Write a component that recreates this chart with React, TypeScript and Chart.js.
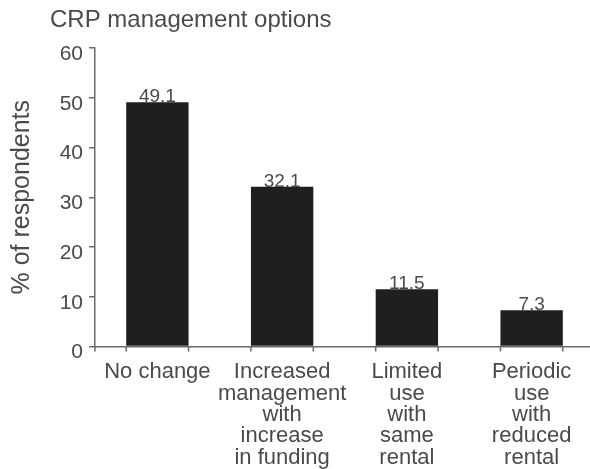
import React, { useEffect, useRef } from "react";
import { Chart, registerables } from "chart.js";

Chart.register(...registerables);

const categories: string[][] = [
  ["No change"],
  ["Increased", "management", "with", "increase", "in funding"],
  ["Limited", "use", "with", "same", "rental"],
  ["Periodic", "use", "with", "reduced", "rental"],
];
const values: number[] = [49.1, 32.1, 11.5, 7.3];
const yTicks: number[] = [0, 10, 20, 30, 40, 50, 60];
const chartTitle = "CRP management options";
const yTitle = "% of respondents";

const TEXT = "#4a4a4a";
const AXIS = "#6a6a6a";
const BAR = "#1f1f1f";
const FONT = "'Liberation Sans', Arial, Helvetica, sans-serif";

const W = 594;
const H = 469;

export default function App() {
  const ref = useRef<HTMLCanvasElement | null>(null);

  useEffect(() => {
    if (!ref.current) return;
    const decor = {
      id: "decor",
      afterDraw(chart: any) {
        const ctx = chart.ctx;
        const area = chart.chartArea;
        const meta = chart.getDatasetMeta(0);
        ctx.save();
        // bar-edge ticks under x axis
        ctx.strokeStyle = AXIS;
        ctx.lineWidth = 1.5;
        meta.data.forEach((el: any) => {
          const p = el.getProps(["x", "width"], true);
          [p.x - p.width / 2, p.x + p.width / 2].forEach((xx: number) => {
            ctx.beginPath();
            ctx.moveTo(xx, area.bottom);
            ctx.lineTo(xx, area.bottom + 5);
            ctx.stroke();
          });
        });
        ctx.beginPath();
        ctx.moveTo(area.left, area.bottom);
        ctx.lineTo(area.left, area.bottom + 5);
        ctx.stroke();
        // value labels
        ctx.fillStyle = TEXT;
        ctx.font = `19px ${FONT}`;
        ctx.textAlign = "center";
        ctx.textBaseline = "alphabetic";
        meta.data.forEach((el: any, i: number) => {
          const p = el.getProps(["x", "y"], true);
          ctx.fillText(values[i].toFixed(1), p.x, p.y);
        });
        // chart title
        ctx.font = `24px ${FONT}`;
        ctx.textAlign = "left";
        ctx.fillText(chartTitle, 50, 27);
        ctx.restore();
      },
    };

    const chart = new Chart(ref.current, {
      type: "bar",
      data: {
        labels: categories,
        datasets: [
          {
            data: values,
            backgroundColor: BAR,
            borderWidth: 0,
            barPercentage: 0.5,
            categoryPercentage: 1,
          },
        ],
      },
      options: {
        animation: false,
        responsive: false,
        maintainAspectRatio: false,
        layout: { padding: { top: 48, left: 0, right: 0, bottom: 0 } },
        plugins: {
          legend: { display: false },
          tooltip: { enabled: false },
          title: { display: false },
        },
        scales: {
          x: {
            grid: { display: false, drawTicks: false },
            border: { display: true, color: AXIS, width: 1.5 },
            ticks: {
              color: TEXT,
              font: { family: FONT, size: 22, lineHeight: 0.97 },
              padding: 15,
              maxRotation: 0,
              autoSkip: false,
            },
            afterFit: (s: any) => {
              s.height = 122.5;
            },
          },
          y: {
            min: 0,
            max: 60,
            afterBuildTicks: (s: any) => {
              s.ticks = yTicks.map((v) => ({ value: v }));
            },
            grid: {
              drawOnChartArea: false,
              drawTicks: true,
              tickLength: 6,
              color: AXIS,
              lineWidth: 1.5,
            },
            border: { display: true, color: AXIS, width: 1.5 },
            ticks: {
              color: TEXT,
              font: { family: FONT, size: 21 },
              padding: 6,
              labelOffset: 6,
            },
            title: {
              display: true,
              text: yTitle,
              color: TEXT,
              font: { family: FONT, size: 25, lineHeight: 1 },
              padding: { top: 9.5, bottom: 0 },
            },
            afterFit: (s: any) => {
              s.width = 95;
            },
          },
        },
      },
      plugins: [decor],
    } as any);
    return () => chart.destroy();
  }, []);

  return (
    <div style={{ position: "fixed", left: 0, top: 0, width: W, height: H, background: "#fff" }}>
      <canvas ref={ref} width={W} height={H} style={{ display: "block" }} />
    </div>
  );
}
